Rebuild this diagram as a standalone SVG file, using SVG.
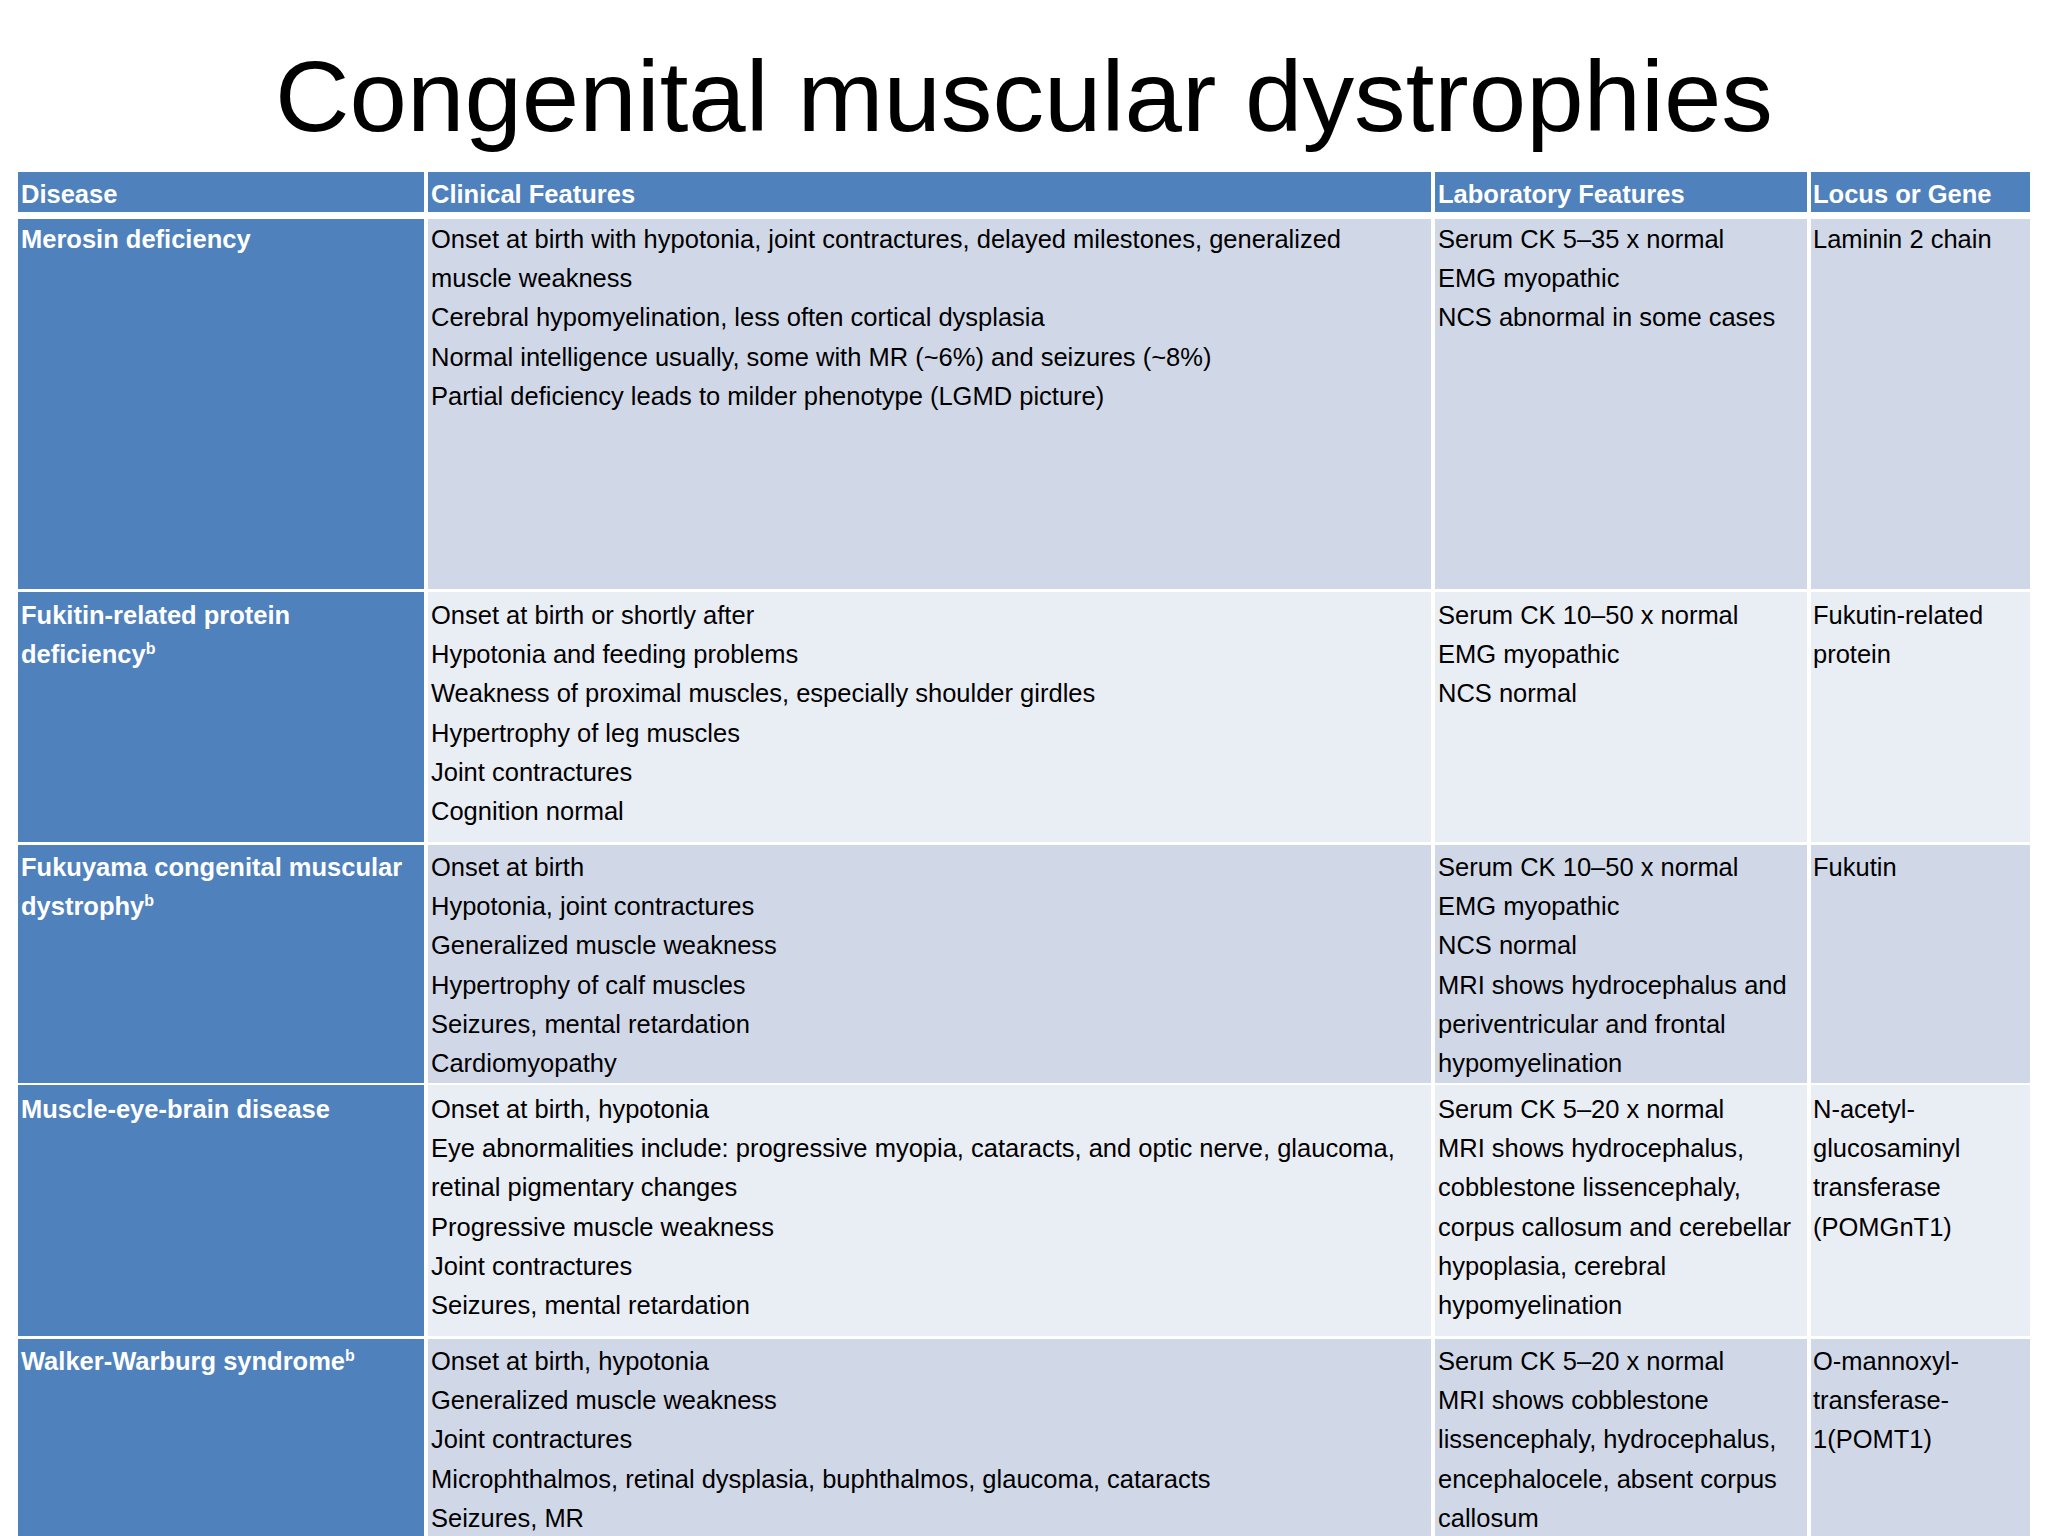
<svg xmlns="http://www.w3.org/2000/svg" width="2048" height="1536" viewBox="0 0 2048 1536">
<style>
.h{fill:#4F81BD}.a{fill:#D0D8E8}.b{fill:#E9EDF4}
text{font-family:"Liberation Sans",Arial,sans-serif;font-size:25.5px;fill:#000}
.w{fill:#fff;font-weight:bold}
.t{font-size:100px}
</style>
<rect width="2048" height="1536" fill="#fff"/>
<text class="t" x="1024" y="131" text-anchor="middle" textLength="1498" lengthAdjust="spacingAndGlyphs">Congenital muscular dystrophies</text>
<g id="header">
<rect class="h" x="18" y="172" width="406" height="40"/>
<rect class="h" x="428" y="172" width="1003" height="40"/>
<rect class="h" x="1435" y="172" width="372" height="40"/>
<rect class="h" x="1811" y="172" width="219" height="40"/>
<text class="w" x="21" y="203">Disease</text>
<text class="w" x="431" y="203">Clinical Features</text>
<text class="w" x="1438" y="203">Laboratory Features</text>
<text class="w" x="1813" y="203">Locus or Gene</text>
</g>
<g id="row1">
<rect class="h" x="18" y="219" width="406" height="370"/>
<rect class="a" x="428" y="219" width="1003" height="370"/>
<rect class="a" x="1435" y="219" width="372" height="370"/>
<rect class="a" x="1811" y="219" width="219" height="370"/>
<text class="w" x="21" y="248">Merosin deficiency</text>
<text x="431" y="248"><tspan x="431">Onset at birth with hypotonia, joint contractures, delayed milestones, generalized</tspan><tspan x="431" dy="39.2">muscle weakness</tspan><tspan x="431" dy="39.2">Cerebral hypomyelination, less often cortical dysplasia</tspan><tspan x="431" dy="39.2">Normal intelligence usually, some with MR (~6%) and seizures (~8%)</tspan><tspan x="431" dy="39.2">Partial deficiency leads to milder phenotype (LGMD picture)</tspan></text>
<text x="1438" y="248"><tspan x="1438">Serum CK 5–35 x normal</tspan><tspan x="1438" dy="39.2">EMG myopathic</tspan><tspan x="1438" dy="39.2">NCS abnormal in some cases</tspan></text>
<text x="1813" y="248">Laminin 2 chain</text>
</g>
<g id="row2">
<rect class="h" x="18" y="592" width="406" height="250"/>
<rect class="b" x="428" y="592" width="1003" height="250"/>
<rect class="b" x="1435" y="592" width="372" height="250"/>
<rect class="b" x="1811" y="592" width="219" height="250"/>
<text class="w" x="21" y="624"><tspan x="21">Fukitin-related protein</tspan><tspan x="21" dy="39.2">deficiency</tspan><tspan font-size="16" dy="-9">b</tspan></text>
<text x="431" y="624"><tspan x="431">Onset at birth or shortly after</tspan><tspan x="431" dy="39.2">Hypotonia and feeding problems</tspan><tspan x="431" dy="39.2">Weakness of proximal muscles, especially shoulder girdles</tspan><tspan x="431" dy="39.2">Hypertrophy of leg muscles</tspan><tspan x="431" dy="39.2">Joint contractures</tspan><tspan x="431" dy="39.2">Cognition normal</tspan></text>
<text x="1438" y="624"><tspan x="1438">Serum CK 10–50 x normal</tspan><tspan x="1438" dy="39.2">EMG myopathic</tspan><tspan x="1438" dy="39.2">NCS normal</tspan></text>
<text x="1813" y="624"><tspan x="1813">Fukutin-related</tspan><tspan x="1813" dy="39.2">protein</tspan></text>
</g>
<g id="row3">
<rect class="h" x="18" y="845" width="406" height="238"/>
<rect class="a" x="428" y="845" width="1003" height="238"/>
<rect class="a" x="1435" y="845" width="372" height="238"/>
<rect class="a" x="1811" y="845" width="219" height="238"/>
<text class="w" x="21" y="876"><tspan x="21">Fukuyama congenital muscular</tspan><tspan x="21" dy="39.2">dystrophy</tspan><tspan font-size="16" dy="-9">b</tspan></text>
<text x="431" y="876"><tspan x="431">Onset at birth</tspan><tspan x="431" dy="39.2">Hypotonia, joint contractures</tspan><tspan x="431" dy="39.2">Generalized muscle weakness</tspan><tspan x="431" dy="39.2">Hypertrophy of calf muscles</tspan><tspan x="431" dy="39.2">Seizures, mental retardation</tspan><tspan x="431" dy="39.2">Cardiomyopathy</tspan></text>
<text x="1438" y="876"><tspan x="1438">Serum CK 10–50 x normal</tspan><tspan x="1438" dy="39.2">EMG myopathic</tspan><tspan x="1438" dy="39.2">NCS normal</tspan><tspan x="1438" dy="39.2">MRI shows hydrocephalus and</tspan><tspan x="1438" dy="39.2">periventricular and frontal</tspan><tspan x="1438" dy="39.2">hypomyelination</tspan></text>
<text x="1813" y="876">Fukutin</text>
</g>
<g id="row4">
<rect class="h" x="18" y="1085" width="406" height="251"/>
<rect class="b" x="428" y="1085" width="1003" height="251"/>
<rect class="b" x="1435" y="1085" width="372" height="251"/>
<rect class="b" x="1811" y="1085" width="219" height="251"/>
<text class="w" x="21" y="1118">Muscle-eye-brain disease</text>
<text x="431" y="1118"><tspan x="431">Onset at birth, hypotonia</tspan><tspan x="431" dy="39.2">Eye abnormalities include: progressive myopia, cataracts, and optic nerve, glaucoma,</tspan><tspan x="431" dy="39.2">retinal pigmentary changes</tspan><tspan x="431" dy="39.2">Progressive muscle weakness</tspan><tspan x="431" dy="39.2">Joint contractures</tspan><tspan x="431" dy="39.2">Seizures, mental retardation</tspan></text>
<text x="1438" y="1118"><tspan x="1438">Serum CK 5–20 x normal</tspan><tspan x="1438" dy="39.2">MRI shows hydrocephalus,</tspan><tspan x="1438" dy="39.2">cobblestone lissencephaly,</tspan><tspan x="1438" dy="39.2">corpus callosum and cerebellar</tspan><tspan x="1438" dy="39.2">hypoplasia, cerebral</tspan><tspan x="1438" dy="39.2">hypomyelination</tspan></text>
<text x="1813" y="1118"><tspan x="1813">N-acetyl-</tspan><tspan x="1813" dy="39.2">glucosaminyl</tspan><tspan x="1813" dy="39.2">transferase</tspan><tspan x="1813" dy="39.2">(POMGnT1)</tspan></text>
</g>
<g id="row5">
<rect class="h" x="18" y="1339" width="406" height="197"/>
<rect class="a" x="428" y="1339" width="1003" height="197"/>
<rect class="a" x="1435" y="1339" width="372" height="197"/>
<rect class="a" x="1811" y="1339" width="219" height="197"/>
<text class="w" x="21" y="1370">Walker-Warburg syndrome<tspan font-size="16" dy="-9">b</tspan></text>
<text x="431" y="1370"><tspan x="431">Onset at birth, hypotonia</tspan><tspan x="431" dy="39.2">Generalized muscle weakness</tspan><tspan x="431" dy="39.2">Joint contractures</tspan><tspan x="431" dy="39.2">Microphthalmos, retinal dysplasia, buphthalmos, glaucoma, cataracts</tspan><tspan x="431" dy="39.2">Seizures, MR</tspan></text>
<text x="1438" y="1370"><tspan x="1438">Serum CK 5–20 x normal</tspan><tspan x="1438" dy="39.2">MRI shows cobblestone</tspan><tspan x="1438" dy="39.2">lissencephaly, hydrocephalus,</tspan><tspan x="1438" dy="39.2">encephalocele, absent corpus</tspan><tspan x="1438" dy="39.2">callosum</tspan></text>
<text x="1813" y="1370"><tspan x="1813">O-mannoxyl-</tspan><tspan x="1813" dy="39.2">transferase-</tspan><tspan x="1813" dy="39.2">1(POMT1)</tspan></text>
</g>
</svg>
